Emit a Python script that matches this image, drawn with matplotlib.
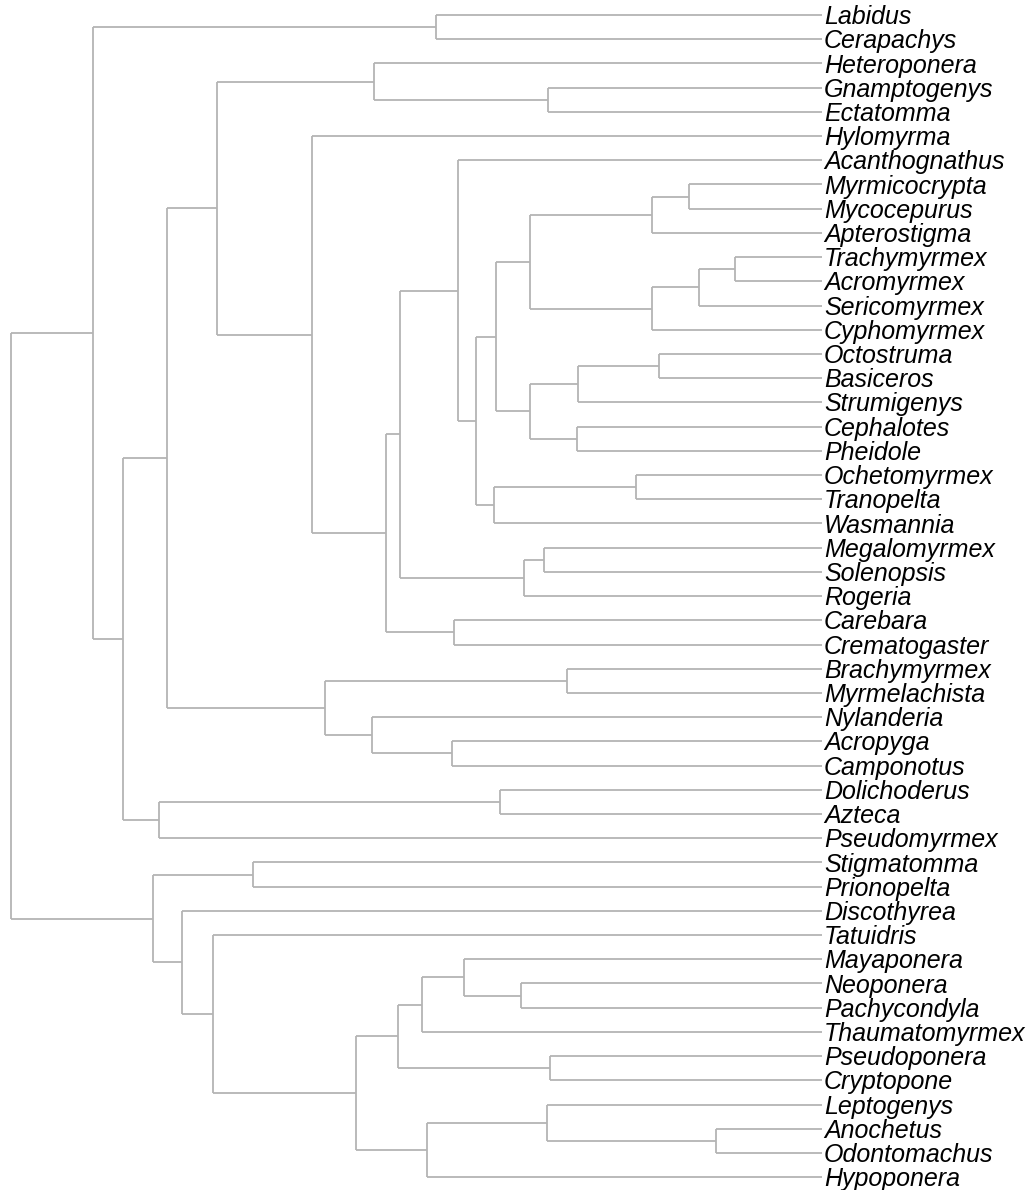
import matplotlib.pyplot as plt

# tips, top to bottom
leaves = ["Labidus", "Cerapachys", "Heteroponera", "Gnamptogenys", "Ectatomma",
          "Hylomyrma", "Acanthognathus", "Myrmicocrypta", "Mycocepurus", "Apterostigma",
          "Trachymyrmex", "Acromyrmex", "Sericomyrmex", "Cyphomyrmex", "Octostruma",
          "Basiceros", "Strumigenys", "Cephalotes", "Pheidole", "Ochetomyrmex",
          "Tranopelta", "Wasmannia", "Megalomyrmex", "Solenopsis", "Rogeria",
          "Carebara", "Crematogaster", "Brachymyrmex", "Myrmelachista", "Nylanderia",
          "Acropyga", "Camponotus", "Dolichoderus", "Azteca", "Pseudomyrmex",
          "Stigmatomma", "Prionopelta", "Discothyrea", "Tatuidris", "Mayaponera",
          "Neoponera", "Pachycondyla", "Thaumatomyrmex", "Pseudoponera", "Cryptopone",
          "Leptogenys", "Anochetus", "Odontomachus", "Hypoponera"]

tip_depth = 811

# internal nodes: (node, child 1, child 2, depth from root)
nodes = [
    ("A1", "Labidus", "Cerapachys", 425),
    ("A2", "Gnamptogenys", "Ectatomma", 537),
    ("A3", "Heteroponera", "A2", 363),
    ("M1", "Myrmicocrypta", "Mycocepurus", 678),
    ("M2", "M1", "Apterostigma", 641),
    ("M3", "Trachymyrmex", "Acromyrmex", 724),
    ("M4", "M3", "Sericomyrmex", 688),
    ("M5", "M4", "Cyphomyrmex", 641),
    ("M6", "M2", "M5", 519),
    ("M7", "Octostruma", "Basiceros", 648),
    ("M8", "M7", "Strumigenys", 567),
    ("M9", "Cephalotes", "Pheidole", 566),
    ("M10", "M8", "M9", 519),
    ("M11", "M6", "M10", 485),
    ("M12", "Ochetomyrmex", "Tranopelta", 625),
    ("M13", "M12", "Wasmannia", 483),
    ("M14", "M11", "M13", 465),
    ("M15", "Acanthognathus", "M14", 447),
    ("M16", "Megalomyrmex", "Solenopsis", 533),
    ("M17", "M16", "Rogeria", 513),
    ("M18", "M15", "M17", 389),
    ("M19", "Carebara", "Crematogaster", 443),
    ("M20", "M18", "M19", 375),
    ("M21", "Hylomyrma", "M20", 301),
    ("F1", "A3", "M21", 206),
    ("Fo1", "Brachymyrmex", "Myrmelachista", 556),
    ("Fo2", "Acropyga", "Camponotus", 441),
    ("Fo3", "Nylanderia", "Fo2", 361),
    ("Fo4", "Fo1", "Fo3", 314),
    ("F2", "F1", "Fo4", 156),
    ("D1", "Dolichoderus", "Azteca", 489),
    ("D2", "D1", "Pseudomyrmex", 148),
    ("F3", "F2", "D2", 112),
    ("F4", "A1", "F3", 82),
    ("P1", "Stigmatomma", "Prionopelta", 242),
    ("P2", "Neoponera", "Pachycondyla", 510),
    ("P3", "Mayaponera", "P2", 453),
    ("P4", "P3", "Thaumatomyrmex", 411),
    ("P5", "Pseudoponera", "Cryptopone", 539),
    ("P6", "P4", "P5", 387),
    ("P7", "Anochetus", "Odontomachus", 705),
    ("P8", "Leptogenys", "P7", 536),
    ("P9", "P8", "Hypoponera", 416),
    ("P10", "P6", "P9", 345),
    ("P11", "Tatuidris", "P10", 202),
    ("P12", "Discothyrea", "P11", 171),
    ("P13", "P1", "P12", 142),
    ("root", "F4", "P13", 0),
]

# positions of tips and nodes
xpos = {name: tip_depth for name in leaves}
ypos = {name: i for i, name in enumerate(leaves)}
for node, a, b, d in nodes:
    xpos[node] = d
    ypos[node] = (ypos[a] + ypos[b]) / 2

fig = plt.figure(figsize=(10.34, 11.90), dpi=100)
ax = fig.add_axes([0, 0, 1, 1])

col = "#b4b4b4"
for node, a, b, d in nodes:
    ax.plot([d, d], [ypos[a], ypos[b]], color=col, lw=1.3, solid_capstyle="butt")
    for c in (a, b):
        ax.plot([d, xpos[c]], [ypos[c], ypos[c]], color=col, lw=1.3, solid_capstyle="butt")

for name in leaves:
    ax.annotate(name, (tip_depth, ypos[name]), xytext=(1.5, -1.5), textcoords="offset points",
                ha="left", va="center", fontsize=18, style="italic",
                family="Liberation Sans", color="black")

ax.set_xlim(-11, 1023)
ax.set_ylim(48.53, -0.62)
ax.axis("off")

fig.savefig("out.png", dpi=100)
